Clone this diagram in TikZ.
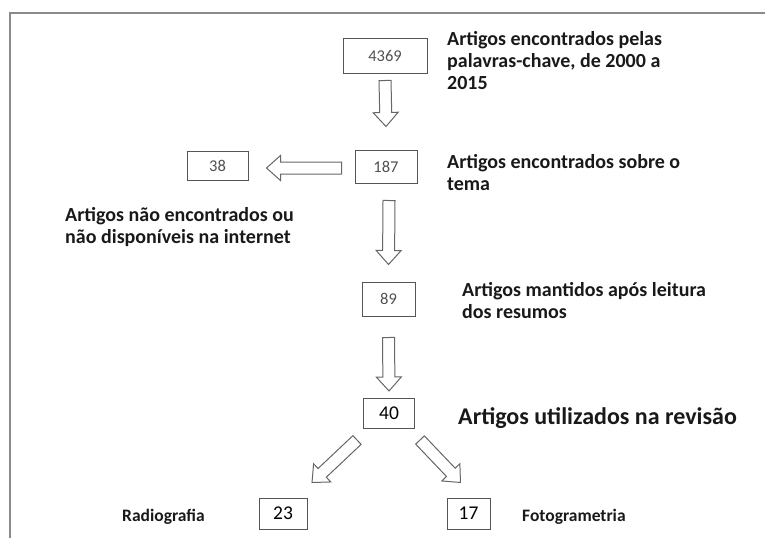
\documentclass[tikz,border=0pt]{standalone}
\usepackage{fontspec}
\setmainfont{Carlito}
\usetikzlibrary{calc}
\definecolor{boxc}{HTML}{555555}
\definecolor{numc}{HTML}{505050}
\definecolor{framec}{HTML}{8A8A8A}
\definecolor{arrc}{HTML}{666666}
\tikzset{
  numbox/.style={draw=boxc, line width=1pt, inner sep=0pt, font=\fontsize{16.5}{18}\selectfont, text=numc},
  bignumbox/.style={draw=boxc, line width=1pt, inner sep=0pt, font=\fontsize{19.5}{22}\selectfont, text=black},
  lbl/.style={anchor=north west, inner sep=0pt, align=left, font=\bfseries\fontsize{20}{22}\selectfont, text=black!90},
  smlbl/.style={anchor=west, inner sep=0pt, font=\bfseries\fontsize{17.5}{20}\selectfont, text=black!90},
  biglbl/.style={anchor=west, inner sep=0pt, font=\bfseries\fontsize{24}{28}\selectfont, text=black!90},
  barrow/.style={draw=arrc, line width=1pt, fill=white, line join=miter},
}
% block arrow from #1 to #2
\newcommand\blockarrow[2]{%
  \draw[barrow] let \p1=(#1), \p2=(#2),
    \n1={atan2(\y2-\y1,\x2-\x1)}, \n2={veclen(\x2-\x1,\y2-\y1)} in
    [shift={(\p1)}, rotate=\n1]
    (0pt,-6pt) -- ({(\n2-14)*1pt},-6pt) -- ({(\n2-14)*1pt},-12.5pt) -- ({\n2*1pt},0pt)
    -- ({(\n2-14)*1pt},12.5pt) -- ({(\n2-14)*1pt},6pt) -- (0pt,6pt) -- cycle;
}
\begin{document}
\begin{tikzpicture}[x=1pt,y=-1pt]
\useasboundingbox (0,0) rectangle (765,538);
\draw[framec, line width=2pt] (10,538) -- (10,13) -- (765,13);

\node[numbox, minimum width=84pt, minimum height=35pt] (n4369) at (385,55.5) {4369};
\node[numbox, minimum width=62pt, minimum height=33pt] (n187) at (386,166.5) {187};
\node[numbox, minimum width=61pt, minimum height=29pt] (n38) at (217.5,165.5) {38};
\node[numbox, minimum width=53pt, minimum height=34pt] (n89) at (388.5,299) {89};
\node[bignumbox, minimum width=51pt, minimum height=30pt] (n40) at (389,413.5) {40};
\node[bignumbox, minimum width=48pt, minimum height=31pt] (n23) at (283,513.5) {23};
\node[bignumbox, minimum width=43pt, minimum height=31pt] (n17) at (468.5,513.5) {17};

\blockarrow{$(n4369.south)+(0,7)$}{$(n187.north)+(0,-23)$}
\blockarrow{$(n187.west)+(-13,1.5)$}{$(n38.east)+(18,2.5)$}
\blockarrow{$(n187.south)+(3,17)$}{$(n89.north)+(0,-17)$}
\blockarrow{$(n89.south)+(0,21)$}{$(n40.north)+(0,-7)$}
\blockarrow{$(n40.south)+(-32,11)$}{$(n23.north)+(29,-15)$}
\blockarrow{$(n40.south)+(31,11)$}{$(n17.north)+(-8,-15)$}

\node[lbl] (t1) at (447,31) {Artigos encontrados pelas\\palavras-chave, de 2000 a\\2015};
\node[lbl] (t2) at (447,154) {Artigos encontrados sobre o\\tema};
\node[lbl] (t3) at (65,207) {Artigos não encontrados ou\\não disponíveis na internet};
\node[lbl] (t4) at (462,282.5) {Artigos mantidos após leitura\\dos resumos};
\node[biglbl] (t5) at (458,418) {Artigos utilizados na revisão};
\node[smlbl] (t6) at (122,517) {Radiografia};
\node[smlbl] (t7) at (522,517) {Fotogrametria};
\end{tikzpicture}
\end{document}
